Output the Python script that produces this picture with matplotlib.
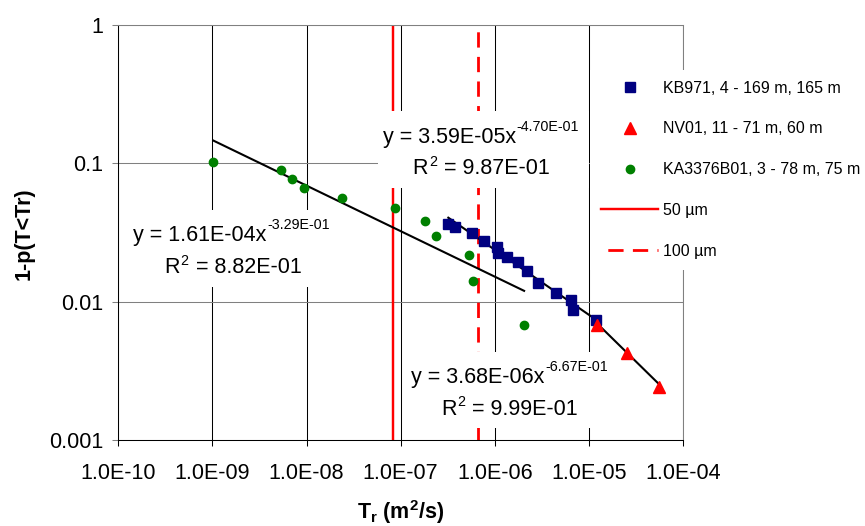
import numpy as np
import matplotlib
matplotlib.use('Agg')
import matplotlib.pyplot as plt
from matplotlib.patches import Rectangle

plt.rcParams['font.family'] = ['Liberation Sans', 'DejaVu Sans']
plt.rcParams['mathtext.fontset'] = 'custom'
plt.rcParams['mathtext.rm'] = 'Liberation Sans'
plt.rcParams['mathtext.bf'] = 'Liberation Sans:bold'
plt.rcParams['mathtext.it'] = 'Liberation Sans:italic'

# KB971 (squares)
kb_x = [3.21e-7, 3.79e-7, 5.74e-7, 7.75e-7, 1.05e-6, 1.08e-6, 1.36e-6,
        1.78e-6, 2.22e-6, 2.90e-6, 4.48e-6, 6.43e-6, 6.84e-6, 1.18e-5]
kb_y = [0.0364, 0.0345, 0.0316, 0.0276, 0.0249, 0.0226, 0.0209,
        0.0194, 0.0167, 0.0137, 0.0115, 0.0102, 0.00869, 0.00736]

# NV01 (triangles)
nv_x = [1.21e-5, 2.55e-5, 5.57e-5]
nv_y = [0.00678, 0.00425, 0.00243]

# KA3376B01 (circles)
ka_x = [1.02e-9, 5.36e-9, 7.06e-9, 9.31e-9, 2.36e-8, 8.79e-8,
        1.83e-7, 2.37e-7, 5.33e-7, 5.82e-7, 2.05e-6]
ka_y = [0.1016, 0.0894, 0.0770, 0.0660, 0.0561, 0.0473,
        0.0381, 0.0297, 0.0216, 0.0141, 0.00681]

# power law trendlines y = a * x^b, R^2
kb_fit = (3.59e-5, -0.470, 0.987)
nv_fit = (3.68e-6, -0.667, 0.999)
ka_fit = (1.61e-4, -0.329, 0.882)

# aperture lines
ap_x = [8.2e-8, 6.6e-7]
ap_labels = ['50 µm', '100 µm']

series_labels = ['KB971, 4 - 169 m, 165 m', 'NV01, 11 - 71 m, 60 m', 'KA3376B01, 3 - 78 m, 75 m']

x_ticks = [1e-10, 1e-9, 1e-8, 1e-7, 1e-6, 1e-5, 1e-4]
x_ticklabels = ['1.0E-10', '1.0E-09', '1.0E-08', '1.0E-07', '1.0E-06', '1.0E-05', '1.0E-04']
y_ticks = [0.001, 0.01, 0.1, 1]
y_ticklabels = ['0.001', '0.01', '0.1', '1']

W, H = 865, 526
fig = plt.figure(figsize=(W / 100, H / 100), dpi=100)
ax = fig.add_axes([118.3 / W, 1 - 440 / H, (683 - 118.3) / W, (440 - 25) / H])
ax.set_xscale('log')
ax.set_yscale('log')
ax.set_xlim(1e-10, 1e-4)
ax.set_ylim(1e-3, 1)

ax.set_xticks(x_ticks)
ax.set_xticklabels(x_ticklabels)
ax.set_yticks(y_ticks)
ax.set_yticklabels(y_ticklabels)
ax.minorticks_off()
ax.tick_params(axis='x', direction='out', length=4.3, width=0.75, color='black', labelsize=15.5, pad=12)
ax.tick_params(axis='y', direction='out', length=4.3, width=0.75, color='#808080', labelsize=15.5, pad=6.5)

for xv in x_ticks:
    ax.axvline(xv, color='black', lw=0.75, zorder=1)
for yv in y_ticks:
    ax.axhline(yv, color='#808080', lw=0.75, zorder=1)
ax.spines['left'].set_color('black')
ax.spines['bottom'].set_color('black')
ax.spines['top'].set_color('#808080')
ax.spines['right'].set_color('#808080')
for s in ax.spines.values():
    s.set_linewidth(0.75)

# aperture lines
l50, = ax.plot([ap_x[0], ap_x[0]], [1, 0.001], color='red', lw=1.75, zorder=2)
l100, = ax.plot([ap_x[1], ap_x[1]], [1, 0.001], color='red', lw=2, zorder=2,
                linestyle=(6.4, (5.5, 3.35)))

# data
hk, = ax.plot(kb_x, kb_y, 's', color='#000080', ms=7.3, mec='#000080', zorder=4)
hn, = ax.plot(nv_x, nv_y, '^', color='red', ms=8, mec='red', zorder=4)
ha, = ax.plot(ka_x, ka_y, 'o', color='#008000', ms=6, mec='#008000', zorder=4)

# trendlines
for xs, (a, b, r2) in [(ka_x, ka_fit), (kb_x, kb_fit), (nv_x, nv_fit)]:
    xf = np.logspace(np.log10(min(xs)), np.log10(max(xs)), 50)
    ax.plot(xf, a * xf ** b, color='black', lw=1.5, zorder=3)

leg = ax.legend([hk, hn, ha, l50, l100], series_labels + ap_labels,
                loc='upper left', bbox_to_anchor=(590 / W, 1 - 69.5 / H),
                bbox_transform=fig.transFigure, fontsize=11.5, frameon=True,
                facecolor='white', edgecolor='none', fancybox=False, framealpha=1,
                borderaxespad=0, borderpad=0.7, handlelength=3.56, handletextpad=0.3,
                labelspacing=1.61, numpoints=1)

# equation labels
rend = fig.canvas.get_renderer()


def rich(x, y, parts):
    for s, size, up in parts:
        t = fig.text(x / W, 1 - (y - up) / H, s, fontsize=size, ha='left', va='baseline', zorder=4)
        x += t.get_window_extent(renderer=rend).width + 1


def eq_box(x0, y0, x1, y1):
    fig.add_artist(Rectangle((x0 / W, 1 - y1 / H), (x1 - x0) / W, (y1 - y0) / H,
                             transform=fig.transFigure, facecolor='white',
                             edgecolor='none', zorder=1))


eq_pos = [(kb_fit, (378, 111, 589, 188), (382.7, 143.3), (412.7, 174)),
          (ka_fit, (128, 210, 338, 287), (133.3, 240.7), (164, 273.3)),
          (nv_fit, (405, 352, 617, 428), (410.7, 383.3), (441, 415))]
for (a, b, r2), box, p1, p2 in eq_pos:
    eq_box(*box)
    rich(p1[0], p1[1], [('y = %.2Ex' % a, 15.5, 0), ('%.2E' % b, 10.3, 12)])
    rich(p2[0], p2[1], [('R', 15.5, 0), ('2', 10.3, 8.5), (' = %.2E' % r2, 15.5, 0)])

fig.text(24 / W, 1 - 233.5 / H, '1-p(T<Tr)', rotation=90, fontsize=15.5,
         fontweight='bold', ha='center', va='center')
fig.text(400.5 / W, 1 - 519 / H, r'$\mathbf{T_r\ (m^2/s)}$', fontsize=15.5,
         ha='center', va='baseline')

fig.savefig('out.png', dpi=100)
